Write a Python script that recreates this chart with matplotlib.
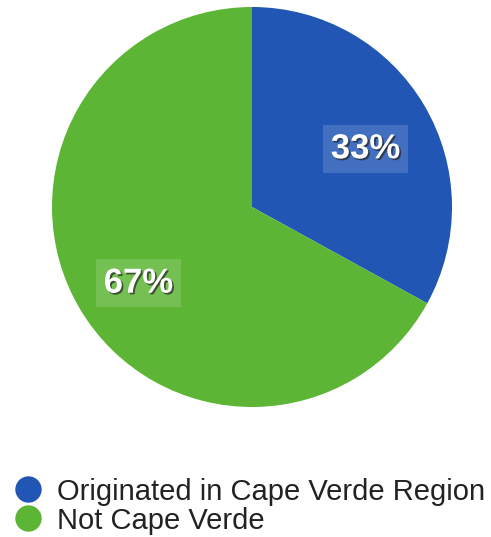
import matplotlib.pyplot as plt
import matplotlib.patheffects as pe
from matplotlib.lines import Line2D

plt.rcParams['font.family'] = ['Liberation Sans', 'DejaVu Sans']

# origin of storms
labels = ['Originated in Cape Verde Region', 'Not Cape Verde']
shares = [33, 67]
colors = ['#2156b4', '#5db535']

fig = plt.figure(figsize=(4.91, 5.37), dpi=100)
ax = fig.add_axes([52 / 491, 1 - 407 / 537, 400 / 491, 400 / 537])

wedges, texts, autotexts = ax.pie(
    shares, colors=colors, startangle=90, counterclock=False,
    autopct='%d%%', pctdistance=0.66, radius=1,
    wedgeprops=dict(linewidth=0),
)
for t in autotexts:
    x, y = t.get_position()
    t.set_position((x, y - 0.045))
    t.set_color('white')
    t.set_fontsize(25)
    t.set_fontweight('bold')
    t.set_path_effects([pe.withSimplePatchShadow(offset=(1.2, -1.2), shadow_rgbFace='#222222', alpha=0.7)])
    t.set_bbox(dict(boxstyle='square,pad=0.22', facecolor='white', alpha=0.15, edgecolor='none'))

ax.set_xlim(-1, 1)
ax.set_ylim(-1, 1)
ax.set_aspect('equal')
ax.axis('off')

handles = [Line2D([], [], marker='o', linestyle='none', markersize=19,
                  markerfacecolor=c, markeredgecolor='none') for c in colors]
fig.legend(handles, labels, loc='upper left', bbox_to_anchor=(0.0, 1 - 466 / 537),
           frameon=False, fontsize=21, handletextpad=0.45, labelspacing=0.03,
           borderaxespad=0, handlelength=1.1, labelcolor='#222222')

fig.savefig('out.png', dpi=100)
